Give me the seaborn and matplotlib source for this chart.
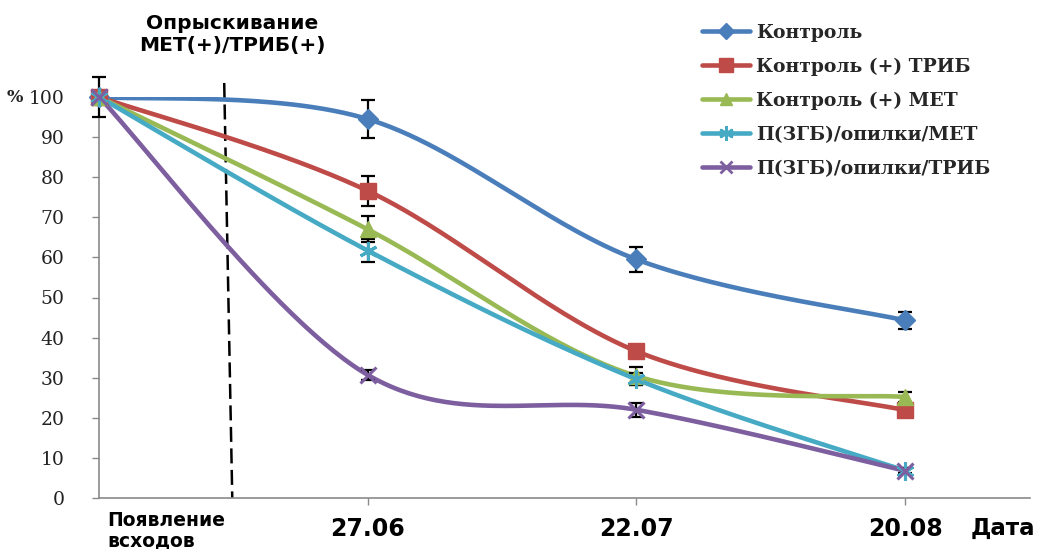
import numpy as np
import pandas as pd
import matplotlib
matplotlib.use("Agg")
import matplotlib.pyplot as plt
from matplotlib.lines import Line2D
import seaborn as sns

# --- data -------------------------------------------------------------
dates = ["Появление\nвсходов", "27.06", "22.07", "20.08"]
series_names = [
    "Контроль",
    "Контроль (+) ТРИБ",
    "Контроль (+) МЕТ",
    "П(ЗГБ)/опилки/МЕТ",
    "П(ЗГБ)/опилки/ТРИБ",
]
control = [100, 94.5, 59.5, 44.3]
control_trib = [100, 76.6, 36.6, 21.9]
control_met = [100, 67.0, 30.4, 25.2]
p_met = [100, 61.7, 29.6, 6.8]
p_trib = [100, 30.7, 22.0, 6.8]

control_err = [5.0, 4.7, 3.1, 2.2]
control_trib_err = [0, 3.7, 1.5, 0.8]
control_met_err = [0, 3.2, 2.2, 1.2]
p_met_err = [0, 2.8, 1.5, 0.8]
p_trib_err = [0, 1.2, 1.7, 0.6]

values = [control, control_trib, control_met, p_met, p_trib]
errors = [control_err, control_trib_err, control_met_err, p_met_err, p_trib_err]

colors = ["#4A7EBB", "#BE4B48", "#98B954", "#46AAC5", "#7D5FA0"]
markers = ["D", "s", "^", (6, 2, 0), "x"]
marker_sizes = [10, 12, 11, 13, 11]


def smooth_curve(xs, ys, n=60):
    """Cubic Bezier smoothing through the points (spreadsheet-style)."""
    p = np.column_stack([xs, ys]).astype(float)
    ext = np.vstack([p[0], p, p[-1]])
    out = []
    t = np.linspace(0, 1, n)[:, None]
    for i in range(len(p) - 1):
        p0, p1 = ext[i + 1], ext[i + 2]
        c1 = p0 + (ext[i + 2] - ext[i]) / 6.0
        c2 = p1 - (ext[i + 3] - ext[i + 1]) / 6.0
        seg = ((1 - t) ** 3) * p0 + 3 * ((1 - t) ** 2) * t * c1 \
            + 3 * (1 - t) * t ** 2 * c2 + t ** 3 * p1
        out.append(seg if i == 0 else seg[1:])
    return np.vstack(out)


x_pos = np.arange(len(dates))
frames = []
for name, ys in zip(series_names, values):
    c = smooth_curve(x_pos, ys)
    frames.append(pd.DataFrame({"x": c[:, 0], "y": c[:, 1], "series": name}))
curves = pd.concat(frames, ignore_index=True)

points = pd.DataFrame({
    "x": np.tile(x_pos, len(series_names)),
    "y": np.concatenate(values),
    "err": np.concatenate(errors),
    "series": np.repeat(series_names, len(dates)),
})

# --- figure -----------------------------------------------------------
sns.set_theme(style="white")
plt.rcParams["font.family"] = ["DejaVu Sans"]

W, H = 1041, 549
fig = plt.figure(figsize=(W / 100, H / 100), dpi=100)
ax = fig.add_axes([99 / W, (H - 498) / H, (1030 - 99) / W, (498 - 97) / H])

palette = dict(zip(series_names, colors))
sns.lineplot(data=curves, x="x", y="y", hue="series", units="series",
             estimator=None, sort=False, palette=palette, linewidth=3.3,
             legend=False, ax=ax, zorder=3)

# error bars and markers
for i, name in enumerate(series_names):
    sub = points[points.series == name]
    ax.errorbar(sub.x, sub.y, yerr=sub.err, fmt="none", ecolor="black",
                elinewidth=1.6, capsize=5, capthick=1.6, zorder=4, clip_on=False)
for i, name in enumerate(series_names):
    sub = points[points.series == name]
    ax.plot(sub.x, sub.y, linestyle="none", marker=markers[i],
            markersize=marker_sizes[i], color=colors[i],
            markeredgecolor=colors[i], markeredgewidth=2.2 if i >= 3 else 1,
            zorder=5, clip_on=False)

# spraying date marker
ax.plot([0.466, 0.496], [103.5, 0], color="black", linestyle=(0, (6, 2.6)),
        linewidth=1.8, clip_on=False, zorder=2)
ax.text(0.495, 115.6, "Опрыскивание\nМЕТ(+)/ТРИБ(+)", ha="center", va="center",
        fontsize=14.5, fontweight="bold", color="black", linespacing=1.15)

# axes styling
ax.set_xlim(0, 3.465)
ax.set_ylim(0, 100)
ax.set_yticks(np.arange(0, 101, 10))
ax.set_yticklabels([str(v) for v in range(0, 101, 10)],
                   fontfamily="DejaVu Serif", fontsize=13.5, color="#222222")
ax.set_xticks(x_pos[1:])
ax.set_xticklabels(dates[1:], fontsize=17, fontweight="bold", color="black")
ax.tick_params(axis="y", direction="out", length=5, width=1, color="#8a8a8a",
               pad=20, left=True)
ax.tick_params(axis="x", direction="out", length=5, width=1, color="#8a8a8a",
               pad=9, bottom=True)
for side in ["top", "right"]:
    ax.spines[side].set_visible(False)
for side in ["left", "bottom"]:
    ax.spines[side].set_color("#8a8a8a")
    ax.spines[side].set_linewidth(1.2)
ax.set_xlabel("")
ax.set_ylabel("")

ax.text(0.03, -3.3, dates[0], ha="left", va="top", fontsize=13.5,
        fontweight="bold", color="black", linespacing=1.08)
ax.text(-0.282, 100, "%", ha="right", va="center", fontfamily="DejaVu Serif",
        fontsize=12.5, fontweight="bold", color="#222222")
ax.text(3.483, -7.5, "Дата", ha="right", va="center", fontsize=16.5,
        fontweight="bold", color="black", clip_on=False)

# legend
handles = [Line2D([0], [0], color=c, linewidth=3.3, marker=m,
                  markersize=ms * 0.8, markeredgecolor=c,
                  markeredgewidth=2 if i >= 3 else 1)
           for i, (c, m, ms) in enumerate(zip(colors, markers, marker_sizes))]
leg = fig.legend(handles, series_names, loc="upper left",
                 bbox_to_anchor=(694 / W, 1 - 16 / H), frameon=False,
                 prop={"family": "DejaVu Serif", "weight": "bold", "size": 13.5},
                 handlelength=2.6, handletextpad=0.3, labelspacing=0.85,
                 borderaxespad=0)

fig.savefig("out.png", dpi=100, facecolor="white")
